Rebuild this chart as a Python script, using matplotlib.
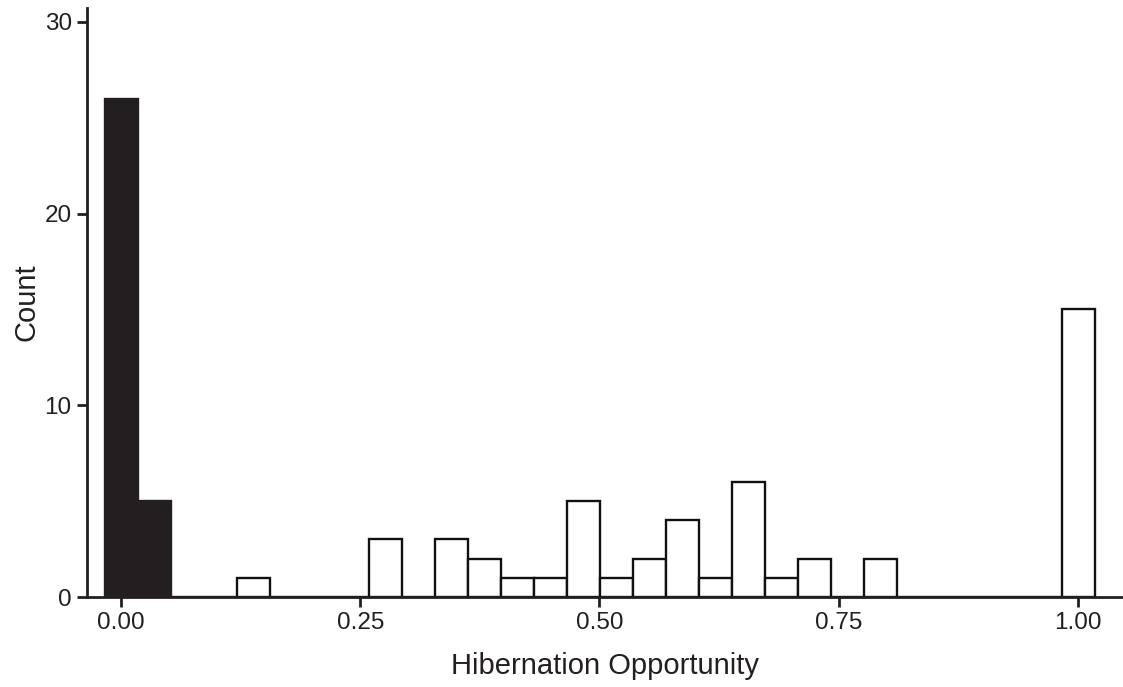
import numpy as np
import matplotlib
matplotlib.use("Agg")
import matplotlib.pyplot as plt

plt.rcParams['font.family'] = ['Liberation Sans', 'DejaVu Sans']

# Histogram data: 30 bins spanning 0..1 (bin centers at k/29)
n_bins = 30
counts = [26, 5, 0, 0, 1, 0, 0, 0, 3, 0,
          3, 2, 1, 1, 5, 1, 2, 4, 1, 6,
          1, 2, 0, 2, 0, 0, 0, 0, 0, 15]
zero_group = [True, True] + [False] * 28   # bars filled black
x_ticks = [0.0, 0.25, 0.5, 0.75, 1.0]
x_tick_labels = ["0.00", "0.25", "0.50", "0.75", "1.00"]
y_ticks = [0, 10, 20, 30]
x_label = "Hibernation Opportunity"
y_label = "Count"

bin_width = 1.0 / (n_bins - 1)
centers = np.arange(n_bins) * bin_width
colors = ['#231f20' if z else 'white' for z in zero_group]
edges = ['#231f20' if z else '#111111' for z in zero_group]

fig = plt.figure(figsize=(11.23, 6.87), dpi=100)
ax = fig.add_axes([87 / 1123, (687 - 597) / 687, (1123 - 87) / 1123, (597 - 8) / 687])

ax.bar(centers + 0.0008, counts, width=bin_width, color=colors, edgecolor=edges,
       linewidth=1.7, align='center', zorder=2)

ax.set_xlim(-0.0355, 1.047)
ax.set_ylim(0, 30.73)
ax.set_xticks(x_ticks)
ax.set_xticklabels(x_tick_labels)
ax.set_yticks(y_ticks)

for s in ['top', 'right']:
    ax.spines[s].set_visible(False)
for s in ['left', 'bottom']:
    ax.spines[s].set_linewidth(2.0)
    ax.spines[s].set_color('#231f20')
    ax.spines[s].set_zorder(3)

ax.tick_params(axis='both', direction='out', length=7, width=2.0,
               color='#231f20', labelsize=17.5, labelcolor='#231f20', pad=4)

ax.set_xlabel(x_label, fontsize=21, color='#231f20', labelpad=13)
ax.set_ylabel(y_label, fontsize=21, color='#231f20', labelpad=3)

fig.savefig("out.png", dpi=100, facecolor='white')
